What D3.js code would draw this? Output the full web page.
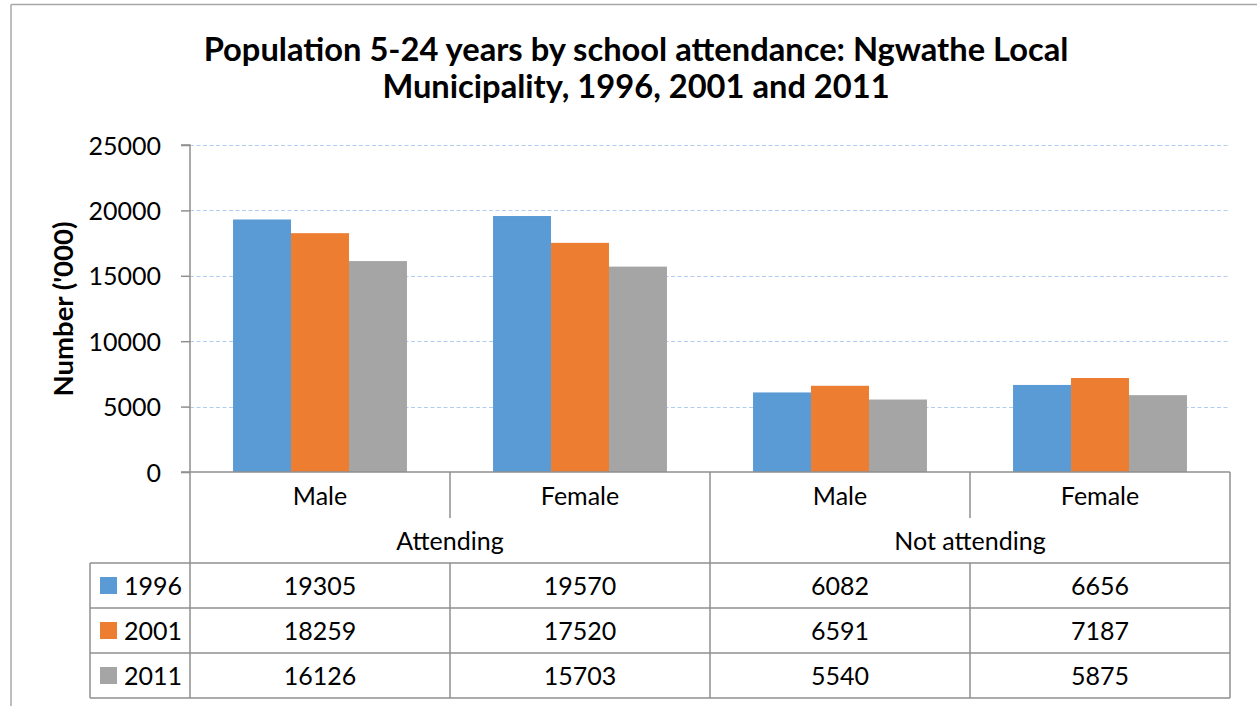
<!DOCTYPE html>
<html><head><meta charset="utf-8">
<script src="https://cdn.jsdelivr.net/npm/d3@7"></script>
<style>
html,body{margin:0;padding:0;background:#fff;overflow:hidden;}
svg{display:block;}
text{font-family:Lato,"Open Sans",sans-serif;fill:#000;}
</style></head>
<body>
<svg id="chart" width="1257" height="706"></svg>
<script>
// ---- data ----
const categories = ["Male", "Female", "Male", "Female"];
const groups = ["Attending", "Not attending"];
const seriesNames = ["1996", "2001", "2011"];
const values1996 = [19305, 19570, 6082, 6656];
const values2001 = [18259, 17520, 6591, 7187];
const values2011 = [16126, 15703, 5540, 5875];
const yTicks = [0, 5000, 10000, 15000, 20000, 25000];
const colors = ["#5B9BD5", "#ED7D31", "#A5A5A5"];
const titleLines = ["Population 5-24 years by school attendance: Ngwathe Local", "Municipality, 1996, 2001 and 2011"];

const series = [values1996, values2001, values2011];
const catKeys = categories.map((c, i) => i);

const svg = d3.select("#chart");
const lineCol = "#8f8f8f";

// frame
svg.append("line").attr("x1", 11).attr("x2", 1257).attr("y1", 4.5).attr("y2", 4.5).attr("stroke", "#a8a8a8").attr("stroke-width", 1.5);
svg.append("line").attr("x1", 11).attr("x2", 11).attr("y1", 4.5).attr("y2", 706).attr("stroke", "#a8a8a8").attr("stroke-width", 1.5);

function fit(sel, w) {
  const node = sel.node();
  let fs = parseFloat(sel.attr("font-size"));
  const len = node.getComputedTextLength();
  sel.attr("font-size", (fs * w / len).toFixed(2));
}

// title
const t1 = svg.append("text").attr("x", 636).attr("y", 61).attr("text-anchor", "middle")
  .attr("font-weight", "bold").attr("font-size", 28).text(titleLines[0]);
fit(t1, 865);
svg.append("text").attr("x", 636).attr("y", 98).attr("text-anchor", "middle")
  .attr("font-weight", "bold").attr("font-size", t1.attr("font-size")).text(titleLines[1]);

// scales
const plotL = 190, plotR = 1230, plotT = 145, plotB = 472;
const y = d3.scaleLinear().domain([0, 25000]).range([plotB, plotT]);
const x = d3.scaleBand().domain(catKeys).range([plotL, plotR]).paddingInner(0.331).paddingOuter(0.1655);
const xs = d3.scaleBand().domain(d3.range(seriesNames.length)).range([0, x.bandwidth()]);
const step = x.step();

// gridlines
svg.append("g").selectAll("line").data(yTicks.filter(d => d > 0)).join("line")
  .attr("x1", plotL).attr("x2", plotR)
  .attr("y1", d => Math.round(y(d)) + 0.5).attr("y2", d => Math.round(y(d)) + 0.5)
  .attr("stroke", "#b3cdf0").attr("stroke-width", 1.2).attr("stroke-dasharray", "4,2.5");

// bars
series.forEach((vals, si) => {
  svg.append("g").selectAll("rect").data(vals).join("rect")
    .attr("x", (d, i) => x(i) + xs(si))
    .attr("y", d => y(d))
    .attr("width", xs.bandwidth())
    .attr("height", d => plotB - y(d))
    .attr("fill", colors[si]);
});

// y axis
const yAxis = d3.axisLeft(y).tickValues(yTicks).tickSize(9).tickPadding(20).tickFormat(d3.format("d"));
const ga = svg.append("g").attr("transform", `translate(${plotL},0)`).call(yAxis);
ga.select(".domain").attr("stroke", lineCol).attr("stroke-width", 1.5).attr("d", `M-9,${plotT}H0V${plotB}`);
ga.selectAll(".tick line").attr("stroke", lineCol).attr("stroke-width", 1.5);
ga.selectAll(".tick text").attr("font-family", "Lato").attr("font-size", 25).attr("fill", "#000").attr("dy", "0.36em");

// y title
const yt = svg.append("text").attr("transform", "translate(73,309) rotate(-90)").attr("text-anchor", "middle")
  .attr("font-weight", "bold").attr("font-size", 24).text("Number ('000)");
fit(yt, 175);

// category table lines
const g2 = svg.append("g").attr("stroke", lineCol).attr("stroke-width", 1.5);
g2.append("line").attr("x1", plotL - 9).attr("x2", plotR).attr("y1", plotB).attr("y2", plotB);
const bounds = d3.range(categories.length + 1).map(i => plotL + i * step);
bounds.forEach((bx, i) => {
  const isGroupEdge = (i % 2 === 0);
  g2.append("line").attr("x1", bx).attr("x2", bx).attr("y1", plotB).attr("y2", isGroupEdge ? 698 : 518);
});
const tableL = 90, rowTop = 563, rowH = 45;
d3.range(seriesNames.length + 1).forEach(r => {
  g2.append("line").attr("x1", tableL).attr("x2", plotR).attr("y1", rowTop + r * rowH).attr("y2", rowTop + r * rowH);
});
g2.append("line").attr("x1", tableL).attr("x2", tableL).attr("y1", rowTop).attr("y2", rowTop + 3 * rowH);
bounds.forEach((bx, i) => {
  if (i % 2 === 1) g2.append("line").attr("x1", bx).attr("x2", bx).attr("y1", rowTop).attr("y2", rowTop + 3 * rowH);
});

// category labels
svg.append("g").selectAll("text").data(categories).join("text")
  .attr("x", (d, i) => plotL + (i + 0.5) * step).attr("y", 496).attr("dy", "0.36em")
  .attr("text-anchor", "middle").attr("font-size", 25).text(d => d);
svg.append("g").selectAll("text").data(groups).join("text")
  .attr("x", (d, i) => plotL + (i * 2 + 1) * step).attr("y", 541).attr("dy", "0.36em")
  .attr("text-anchor", "middle").attr("font-size", 25).text(d => d);

// data table
series.forEach((vals, si) => {
  const cy = rowTop + (si + 0.5) * rowH;
  svg.append("rect").attr("x", 100).attr("y", cy - 8.5).attr("width", 17).attr("height", 17).attr("fill", colors[si]);
  svg.append("text").attr("x", 124).attr("y", cy).attr("dy", "0.36em").attr("font-size", 25).text(seriesNames[si]);
  svg.append("g").selectAll("text").data(vals).join("text")
    .attr("x", (d, i) => plotL + (i + 0.5) * step).attr("y", cy).attr("dy", "0.36em")
    .attr("text-anchor", "middle").attr("font-size", 25).text(d => d);
});
</script>
</body></html>
